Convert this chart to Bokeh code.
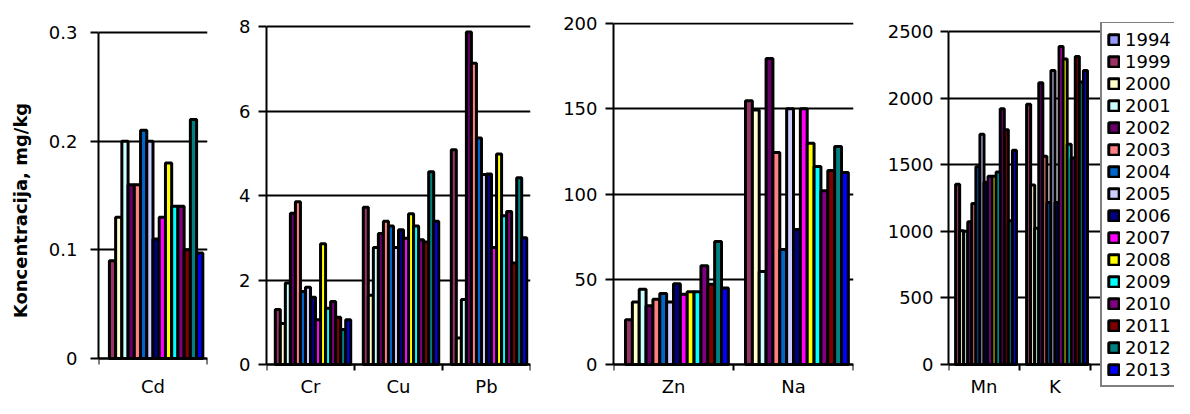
import numpy as np
from bokeh.plotting import figure
from bokeh.layouts import row
from bokeh.models import Range1d, FixedTicker, Legend, LegendItem, ColumnDataSource
from bokeh.embed import file_html
from bokeh.resources import INLINE

nan = float("nan")

years = ["1994", "1999", "2000", "2001", "2002", "2003", "2004", "2005",
         "2006", "2007", "2008", "2009", "2010", "2011", "2012", "2013"]
colors = ["#9999FF", "#993366", "#FFFFCC", "#CCFFFF", "#660066", "#FF8080",
          "#0066CC", "#CCCCFF", "#000080", "#FF00FF", "#FFFF00", "#00FFFF",
          "#800080", "#800000", "#008080", "#0000FF"]

# values per element, one entry per year (1994 has no data)
cd = [nan, 0.09, 0.13, 0.20, 0.16, 0.16, 0.21, 0.20, 0.11, 0.13, 0.18, 0.14, 0.14, 0.10, 0.22, 0.097]
cr = [nan, 1.30, 0.97, 1.93, 3.58, 3.85, 1.73, 1.83, 1.59, 1.06, 2.86, 1.33, 1.49, 1.12, 0.83, 1.06]
cu = [nan, 3.72, 1.64, 2.77, 3.10, 3.39, 3.28, 2.77, 3.19, 2.99, 3.57, 3.28, 2.95, 2.90, 4.56, 3.39]
pb = [nan, 5.08, 0.63, 1.54, 7.87, 7.13, 5.36, 4.50, 4.51, 2.77, 4.98, 3.52, 3.62, 2.40, 4.42, 3.00]
zn = [nan, 26.2, 36.7, 44.1, 34.4, 38.3, 41.6, 36.7, 47.4, 41.2, 42.6, 42.6, 57.9, 47.0, 72.1, 44.9]
na = [nan, 154.7, 149.2, 54.5, 179.4, 124.3, 67.5, 150.0, 79.2, 150.0, 129.8, 116.1, 101.9, 113.8, 127.8, 112.6]
mn = [nan, 1354, 1005, 1000, 1072, 1209, 1484, 1728, 1369, 1414, 1414, 1446, 1920, 1763, 1080, 1608]
k = [nan, 1953, 1347, 1022, 2115, 1564, 1217, 2207, 1217, 2387, 2294, 1653, 1551, 2312, 2120, 2207]

cats1 = ["Cd"]
cats2 = ["Cr", "Cu", "Pb"]
cats3 = ["Zn", "Na"]
cats4 = ["Mn", "K"]

yticks1 = [0, 0.1, 0.2, 0.3]
ylabels1 = ["0", "0.1", "0.2", "0.3"]
yticks2 = [0, 2, 4, 6, 8]
yticks3 = [0, 50, 100, 150, 200]
yticks4 = [0, 500, 1000, 1500, 2000, 2500]

y_title = "Koncentracija, mg/kg"

FONT = "DejaVu Sans"
FSIZE = "18px"
H = 398
TOP = 22
SLOT = 1.0 / 17.5
NY = len(years)


def make_panel(cats, series, yticks, ylabels, zero_px, top_px, width, left,
               right, plot_w, ystand, xstand):
    """zero_px/top_px: pixel rows of the 0 tick and the highest tick;
    plot_w: pixel width taken by the categories."""
    n = len(cats)
    ytop = yticks[-1]
    scale = (zero_px - top_px) / ytop
    ystart = -(H - zero_px) / scale
    yend = ytop + (top_px - TOP) / scale
    xend = n * (width - left - right) / plot_w
    p = figure(width=width, height=H, x_range=Range1d(0, xend),
               y_range=Range1d(ystart, yend), output_backend="svg",
               toolbar_location=None, min_border_left=left,
               min_border_right=right, min_border_top=TOP,
               min_border_bottom=0)
    p.outline_line_color = None
    rends = []
    for i in range(NY):
        xs = np.array([j + 0.5 + (i - (NY - 1) / 2.0) * SLOT for j in range(n)])
        tops = np.array([s[i] for s in series], dtype=float)
        src = ColumnDataSource(dict(x=xs, top=tops))
        r = p.vbar(x="x", top="top", bottom=0, width=SLOT, source=src,
                   fill_color=colors[i], line_color="black", line_width=3)
        rends.append(r)
    # x axis at y = 0: labels at centres, tick marks at category boundaries
    xa = p.xaxis[0]
    xa.fixed_location = 0
    xa.bounds = (0, n)
    xa.ticker = FixedTicker(ticks=[j + 0.5 for j in range(n)],
                            minor_ticks=list(range(n + 1)))
    xa.major_label_overrides = {j + 0.5: c for j, c in enumerate(cats)}
    xa.major_tick_out = 0
    xa.major_tick_in = 0
    xa.minor_tick_out = 6
    xa.minor_tick_in = 0
    xa.minor_tick_line_width = 2
    xa.minor_tick_line_color = "black"
    xa.axis_line_width = 2
    xa.axis_line_color = "black"
    xa.major_label_standoff = xstand
    xa.major_label_text_font = FONT
    xa.major_label_text_font_size = FSIZE
    xa.major_label_text_color = "black"
    # y axis
    ya = p.yaxis[0]
    ya.ticker = FixedTicker(ticks=yticks)
    ya.bounds = (0, ytop)
    ya.major_label_overrides = {t: l for t, l in zip(yticks, ylabels)}
    ya.major_tick_out = 8
    ya.major_tick_in = 0
    ya.major_tick_line_width = 2
    ya.major_tick_line_color = "black"
    ya.minor_tick_out = 0
    ya.minor_tick_in = 0
    ya.axis_line_width = 2
    ya.axis_line_color = "black"
    ya.major_label_standoff = ystand
    ya.major_label_text_font = FONT
    ya.major_label_text_font_size = FSIZE
    ya.major_label_text_color = "black"
    p.xgrid.visible = False
    p.ygrid.bounds = (0, n)
    p.ygrid.grid_line_color = "black"
    p.ygrid.grid_line_width = 2
    p.ygrid.grid_line_alpha = 1.0
    return p, rends


p1, _ = make_panel(cats1, [cd], yticks1, ylabels1, 358, 32,
                   215, 98, 8, 109, 13, 11)
p1.yaxis[0].axis_label = y_title
p1.yaxis[0].axis_label_text_font = FONT
p1.yaxis[0].axis_label_text_font_style = "bold"
p1.yaxis[0].axis_label_text_font_size = FSIZE
p1.yaxis[0].axis_label_text_color = "black"
p1.yaxis[0].axis_label_standoff = 15

p2, _ = make_panel(cats2, [cr, cu, pb], yticks2, [str(t) for t in yticks2],
                   364, 26, 325, 51, 10, 264, 8, 5)
p3, _ = make_panel(cats3, [zn, na], yticks3, [str(t) for t in yticks3],
                   364, 23, 322, 73, 9, 240, 8, 5)
p4, rends4 = make_panel(cats4, [mn, k], yticks4, [str(t) for t in yticks4],
                        364, 31, 312, 86, 0, 142, 7, 5)

legend = Legend(items=[LegendItem(label=y, renderers=[r]) for y, r in zip(years, rends4)],
                location=(152, 11))
legend.label_text_font = FONT
legend.label_text_font_size = FSIZE
legend.label_text_color = "black"
legend.label_height = 22
legend.glyph_width = 13
legend.glyph_height = 13
legend.label_standoff = 5
legend.padding = 5
legend.spacing = 0
legend.margin = 0
legend.border_line_color = "black"
legend.border_line_width = 2
legend.background_fill_color = "white"
legend.background_fill_alpha = 1.0
p4.add_layout(legend)

layout = row(p1, p2, p3, p4, spacing=0)

open("out.html", "w").write(file_html(layout, INLINE))
